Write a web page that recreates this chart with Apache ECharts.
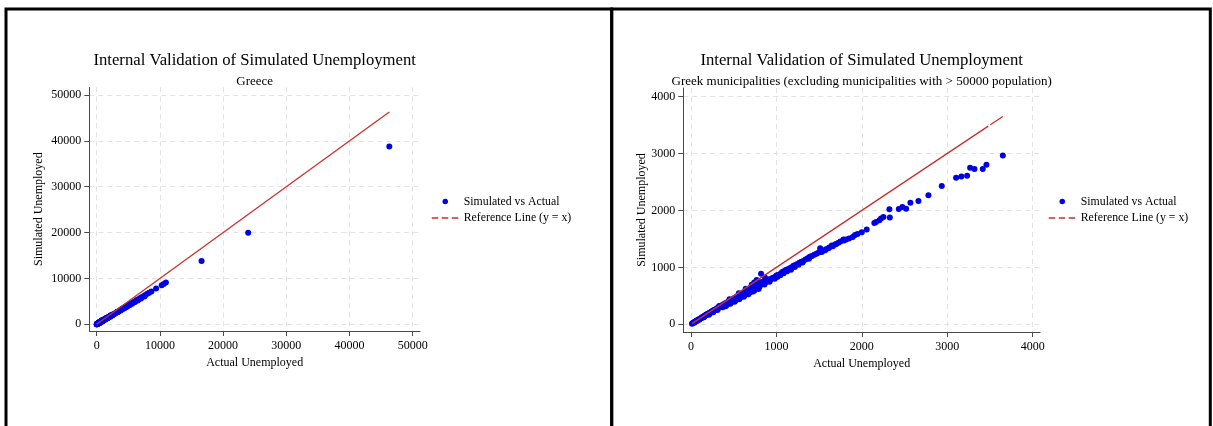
<!DOCTYPE html>
<html>
<head>
<meta charset="utf-8">
<title>Internal Validation of Simulated Unemployment</title>
<script src="https://cdn.jsdelivr.net/npm/echarts@6/dist/echarts.min.js"></script>
<style>
  html, body { margin: 0; padding: 0; background: #fff; }
  #chart { width: 1213px; height: 426px; }
</style>
</head>
<body>
<div id="chart"></div>
<script>
// Municipalities under 50000 population: [actual unemployed, simulated unemployed]
const smallMunicipalities = [
  [12,11],[18,17],[25,22],[31,29],[36,32],[42,40],[47,43],[53,50],[58,52],[63,58],
  [69,66],[74,66],[79,73],[85,80],[90,81],[96,90],[101,91],[107,99],[112,104],[118,106],
  [123,115],[129,117],[134,124],[140,131],[145,130],[150,122],[151,139],[157,146],[162,147],[168,157],[174,158],
  [180,167],[186,176],[191,172],[197,183],[203,189],[209,186],[210,170],[215,199],[221,204],[228,203],[234,218],
  [240,214],[247,228],[253,226],[260,212],[260,241],[266,237],[273,252],[279,249],[286,262],[292,262],[299,274],
  [306,272],[310,250],[313,290],[320,285],[327,297],[330,322],[334,298],[341,313],[348,309],[355,326],[362,321],[369,337],
  [370,300],[377,335],[384,352],[392,346],[399,366],[405,318],[407,360],[415,378],[420,340],[423,372],[431,392],[439,386],[447,406],
  [450,440],[455,399],[460,360],[463,421],[470,382],[471,412],[480,437],[489,424],[498,451],[507,437],[510,398],[516,468],[520,420],[525,452],[534,484],
  [543,466],[553,503],[560,545],[562,480],[565,442],[572,520],[575,468],[582,497],[592,541],[602,512],[612,551],[618,485],[623,530],[630,510],[633,572],
  [640,625],[644,546],[655,592],[666,567],[672,528],[677,608],[689,583],[690,560],[700,626],[710,695],[712,600],[724,655],[728,575],[736,618],[740,735],[745,600],[748,660],
  [760,640],[769,776],[773,690],[786,660],[790,622],[799,700],[800,650],[812,690],[820,886],[826,745],[840,712],[855,748],
  [860,700],[866,823],[870,735],[885,770],[900,758],[916,790],[920,748],[932,785],[948,810],[965,818],[980,800],[982,830],[1000,855],
  [1010,830],[1018,865],[1036,872],[1045,860],[1055,900],[1074,925],[1085,895],[1094,938],[1114,960],[1125,930],[1135,968],[1156,985],[1170,960],[1178,1003],[1200,1030],
  [1215,1005],[1222,1042],[1245,1060],[1260,1045],[1268,1080],[1292,1100],[1305,1085],[1316,1112],[1340,1138],[1365,1158],[1380,1150],[1390,1185],[1416,1200],[1442,1222],
  [1468,1240],[1495,1262],[1512,1337],[1530,1271],[1545,1290],[1569,1301],[1580,1318],[1608,1336],[1620,1350],[1647,1384],
  [1660,1372],[1686,1401],[1700,1410],[1725,1430],[1750,1455],[1784,1489],[1790,1470],[1815,1489],[1850,1505],[1893,1534],
  [1920,1570],[1950,1585],[1999,1617],[2057,1664],[2146,1780],[2166,1797],[2205,1827],[2225,1856],[2252,1885],[2322,2019],
  [2327,1874],[2432,2025],[2474,2060],[2518,2031],[2568,2136],[2662,2165],[2779,2264],[2935,2428],[3103,2574],[3165,2597],
  [3232,2609],[3267,2750],[3318,2725],[3415,2725],[3458,2802],[3650,2965]
];

// Municipalities with more than 50000 population
const largeMunicipalities = [
  [3750,3120],[3820,3060],[3900,3220],[4050,3380],[4150,3330],[4200,3480],[4380,3640],[4450,3560],[4550,3760],[4720,3930],
  [4800,3850],[4900,4060],[5100,4230],[5200,4160],[5300,4380],[5480,4560],[5600,4480],[5700,4720],[5900,4890],[6050,4850],
  [6150,5090],[6350,5280],[6500,5200],[6600,5460],[6850,5680],[7000,5610],[7100,5890],[7400,6130],[7550,6060],[7700,6390],
  [8000,6640],[8300,6880],[8650,7160],[9400,7810],[10280,8540],[10600,8800],[10950,9100],[16590,13800],[23970,19950],[46300,38760]
];

const greeceTicks = [0, 10000, 20000, 30000, 40000, 50000];
const smallTicks = [0, 1000, 2000, 3000, 4000];

const titleText = 'Internal Validation of Simulated Unemployment';
const subtitles = ['Greece', 'Greek municipalities (excluding municipalities with > 50000 population)'];
const axisNames = { x: 'Actual Unemployed', y: 'Simulated Unemployed' };
const seriesNames = { points: 'Simulated vs Actual', ref: 'Reference Line (y = x)' };

const allMunicipalities = smallMunicipalities.concat(largeMunicipalities);

// y = x from the smallest to the largest actual value
function refLine(points) {
  const xs = points.map(p => p[0]);
  const lo = Math.min(...xs), hi = Math.max(...xs);
  return [[lo, lo], [hi, hi]];
}

const SERIF = '"Liberation Serif", "Times New Roman", serif';
const INK = '#000';
const AXIS = '#4a4a4a';
const GRIDLINE = { color: '#e3e3e3', type: [5, 4], width: 1 };
const DOT = '#0000e6';
const RED = '#c9302c';

function xAxisFor(grid, min, max, ticks) {
  return {
    type: 'value', gridIndex: grid, min: min, max: max,
    name: axisNames.x, nameLocation: 'middle', nameGap: 24,
    nameTextStyle: { fontFamily: SERIF, fontSize: 12, color: INK },
    axisLine: { show: true, onZero: false, lineStyle: { color: AXIS, width: 1 } },
    axisTick: { show: true, length: 5, customValues: ticks, lineStyle: { color: AXIS } },
    axisLabel: { customValues: ticks, formatter: v => String(v), margin: 9,
                 fontFamily: SERIF, fontSize: 12, color: INK },
    splitLine: { show: true, lineStyle: GRIDLINE }
  };
}

function yAxisFor(grid, min, max, ticks, gap) {
  return {
    type: 'value', gridIndex: grid, min: min, max: max,
    name: axisNames.y, nameLocation: 'middle', nameGap: gap, nameRotate: 90,
    nameTextStyle: { fontFamily: SERIF, fontSize: 12, color: INK },
    axisLine: { show: true, onZero: false, lineStyle: { color: AXIS, width: 1 } },
    axisTick: { show: true, length: 5, customValues: ticks, lineStyle: { color: AXIS } },
    axisLabel: { customValues: ticks, formatter: v => String(v), margin: 8,
                 fontFamily: SERIF, fontSize: 12, color: INK },
    splitLine: { show: true, lineStyle: GRIDLINE }
  };
}

function titleFor(center, sub) {
  return {
    text: titleText, subtext: sub, left: center, top: 51, textAlign: 'center',
    padding: 0, itemGap: 3.5,
    textStyle: { fontFamily: SERIF, fontSize: 16.7, fontWeight: 'normal', color: INK, lineHeight: 20 },
    subtextStyle: { fontFamily: SERIF, fontSize: 13, color: INK, lineHeight: 15 }
  };
}

function legendFor(left) {
  return {
    orient: 'vertical', left: left, top: 194.5, padding: 0,
    itemWidth: 27, itemHeight: 5.5, itemGap: 2.6, selectedMode: false,
    textStyle: { fontFamily: SERIF, fontSize: 11.8, color: INK, lineHeight: 14 },
    data: [
      { name: seriesNames.points, icon: 'circle' },
      { name: seriesNames.ref,
        lineStyle: { type: [6.5, 3.5], width: 1.5, color: RED },
        itemStyle: { color: 'rgba(0,0,0,0)', borderWidth: 0, opacity: 0 } }
    ]
  };
}

const option = {
  backgroundColor: '#fff',
  animation: false,
  title: [titleFor(254.7, subtitles[0]), titleFor(861.7, subtitles[1])],
  legend: [legendFor(431), legendFor(1048)],
  grid: [
    { left: 89.3, top: 87.3, right: 793, bottom: 95, containLabel: false },
    { left: 683.3, top: 88, right: 173, bottom: 94, containLabel: false }
  ],
  xAxis: [
    xAxisFor(0, -1171, 51155, greeceTicks),
    xAxisFor(1, -90, 4085, smallTicks)
  ],
  yAxis: [
    yAxisFor(0, -1460, 51678, greeceTicks, 44),
    yAxisFor(1, -135, 4149, smallTicks, 33)
  ],
  series: [
    { name: seriesNames.points, type: 'scatter', xAxisIndex: 0, yAxisIndex: 0,
      data: allMunicipalities, symbol: 'circle', symbolSize: 6,
      itemStyle: { color: DOT, opacity: 1 } },
    { name: seriesNames.ref, type: 'line', xAxisIndex: 0, yAxisIndex: 0,
      data: refLine(allMunicipalities), symbol: 'none', showSymbol: false,
      itemStyle: { color: RED },
      lineStyle: { color: RED, width: 1.3, type: 'solid' } },
    { name: seriesNames.points, type: 'scatter', xAxisIndex: 1, yAxisIndex: 1,
      data: smallMunicipalities, symbol: 'circle', symbolSize: 6,
      itemStyle: { color: DOT, opacity: 1 } },
    { name: seriesNames.ref, type: 'line', xAxisIndex: 1, yAxisIndex: 1,
      data: refLine(smallMunicipalities), symbol: 'none', showSymbol: false,
      itemStyle: { color: RED },
      lineStyle: { color: RED, width: 1.3, type: [356, 2.5] } }
  ],
  graphic: [
    { type: 'rect', silent: true, z: 100,
      shape: { x: 6, y: 9, width: 605.7, height: 480 },
      style: { fill: 'none', stroke: '#000', lineWidth: 3 } },
    { type: 'rect', silent: true, z: 100,
      shape: { x: 611.7, y: 9, width: 598.6, height: 480 },
      style: { fill: 'none', stroke: '#000', lineWidth: 3 } }
  ]
};

const chart = echarts.init(document.getElementById('chart'), null, { renderer: 'canvas' });
chart.setOption(option);
</script>
</body>
</html>
